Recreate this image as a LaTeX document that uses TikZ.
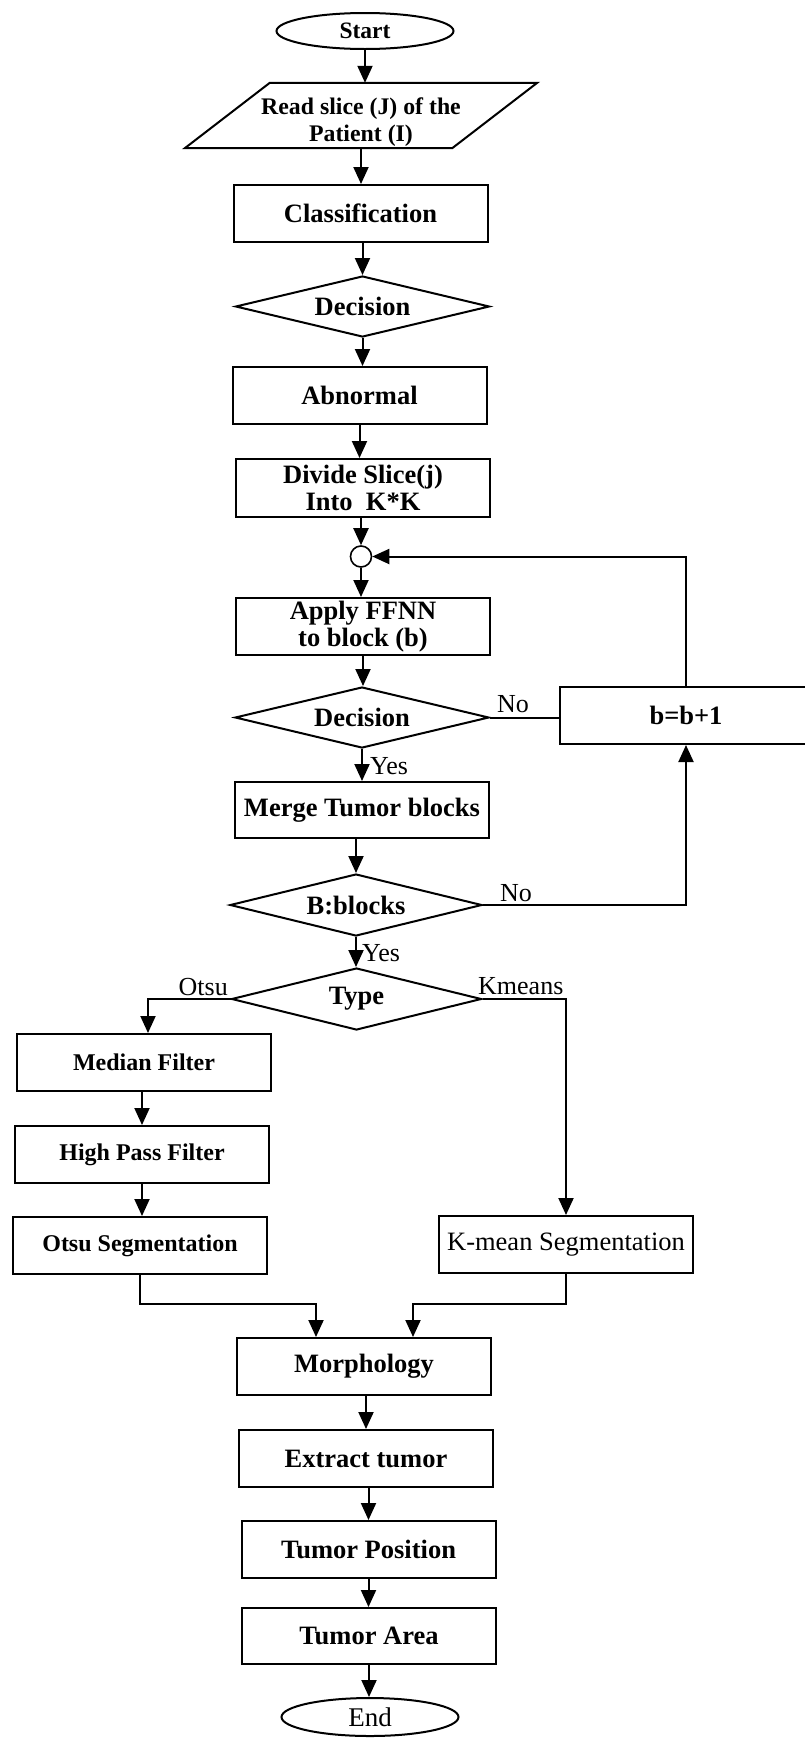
\documentclass[tikz,border=0pt]{standalone}
\usepackage{fontspec}
\setmainfont{Liberation Serif}
\usetikzlibrary{shapes.geometric,arrows.meta}

\begin{document}
\begin{tikzpicture}[x=1pt,y=-1pt,
  every node/.style={inner sep=0pt},
  outline/.style={draw,line width=2pt,align=center},
  proc/.style={outline,rectangle,minimum width=254pt,minimum height=57pt,
    font=\bfseries\fontsize{26.5pt}{27.5pt}\selectfont},
  smalltext/.style={font=\bfseries\fontsize{24pt}{26pt}\selectfont},
  dec/.style={outline,diamond,aspect=4.1,minimum width=254pt,minimum height=61pt,
    font=\bfseries\fontsize{26.5pt}{27.5pt}\selectfont},
  term/.style={outline,ellipse,minimum width=177pt,minimum height=36pt},
  iotext/.style={rectangle,align=center,minimum width=267pt,minimum height=65pt,
    font=\bfseries\fontsize{23.8pt}{27pt}\selectfont},
  junction/.style={draw,circle,line width=1.6pt,minimum size=21pt},
  lab/.style={font=\fontsize{26pt}{28pt}\selectfont},
  arr/.style={line width=2pt,-{Triangle[length=17pt,width=15pt]}},
  ln/.style={line width=2pt},
]
\useasboundingbox (0,0) rectangle (805,1738);

% main column
\node[term,font=\bfseries\fontsize{23.5pt}{25pt}\selectfont] (start) at (365,31) {Start};
\node[iotext] (read) at (361,115.5) {\rule{0pt}{31pt}Read slice (J) of the\\Patient (I)};
% input parallelogram around the read node
\draw[ln,line join=miter] ([xshift=42.5pt]read.north west) -- ([xshift=42.5pt]read.north east)
  -- ([xshift=-42.5pt]read.south east) -- ([xshift=-42.5pt]read.south west) -- cycle;
\node[proc] (class) at (360.5,213.5) {Classification};
\node[dec] (dec1) at (362.5,306.5) {Decision};
\node[proc] (abn) at (359.5,395.5) {Abnormal};
\node[proc,minimum height=58pt] (divide) at (363,488) {Divide Slice(j)\\Into\ \ K*K};
\node[junction] (jn) at (361,556.5) {};
\node[proc] (apply) at (363,626.5) {Apply FFNN\\to block (b)};
\node[dec] (dec2) at (362,717.5) {Decision};
\node[proc,minimum width=252pt] (inc) at (686,715.5) {b=b+1};
\node[proc,minimum height=56pt] (merge) at (362,810) {Merge Tumor blocks};
\node[dec,minimum width=252pt,minimum height=62pt] (blocks) at (356,905) {B:blocks};
\node[dec,minimum width=250pt,minimum height=62pt] (type) at (356.5,999) {Type};

% Otsu branch
\node[proc,smalltext] (median) at (144,1062.5) {Median Filter};
\node[proc,smalltext] (hpf) at (142,1154.5) {High Pass Filter};
\node[proc,smalltext] (otsuseg) at (140,1245.5) {Otsu Segmentation};

% K-means branch
\node[proc,font=\fontsize{26.5pt}{28pt}\selectfont] (kseg) at (566,1244.5) {K-mean Segmentation};

% tail
\node[proc] (morph) at (364,1366.5) {Morphology};
\node[proc] (extract) at (366,1458.5) {Extract tumor};
\node[proc] (position) at (368.5,1549.5) {Tumor Position};
\node[proc,minimum height=56pt] (area) at (369,1636) {Tumor Area};
\node[term,font=\fontsize{27pt}{28pt}\selectfont,minimum height=38pt] (endn) at (370,1717) {End};

% branch labels
\node[lab,anchor=base west] (yes1) at (370,774) {Yes};
\node[lab,anchor=base west] (no1) at (497,712) {No};
\node[lab,anchor=base west] (no2) at (500,901) {No};
\node[lab,anchor=base west] (yes2) at (362,961) {Yes};
\node[lab,anchor=base east] (otsu) at (228,995) {Otsu};
\node[lab,anchor=base west] (kmeans) at (478,994) {Kmeans};

% connectors
\draw[arr] (start.south) -- (start.south |- read.north);
\draw[arr] (read.south) -- (read.south |- class.north);
\draw[arr] (dec1.north |- class.south) -- (dec1.north);
\draw[arr] (dec1.south) -- (dec1.south |- abn.north);
\draw[arr] (abn.south) -- (abn.south |- divide.north);
\draw[arr] (jn.north |- divide.south) -- (jn.north);
\draw[arr] (jn.south) -- (jn.south |- apply.north);
\draw[arr] (apply.south) -- (apply.south |- dec2.north);
\draw[arr] (dec2.south) -- (dec2.south |- merge.north);
\draw[ln] (dec2.east) -- (dec2.east -| inc.west);
\draw[arr] (inc.north) |- (jn.east);
\draw[arr] (merge.south -| blocks.north) -- (blocks.north);
\draw[arr] (blocks.east) -| (inc.south);
\draw[arr] (blocks.south) -- (blocks.south |- type.north);
\draw[arr] (type.west) -| ([xshift=4pt]median.north);
\draw[arr] (type.east) -| (kseg.north);
\draw[arr] (median.south -| hpf.north) -- (hpf.north);
\draw[arr] (hpf.south) -- (hpf.south |- otsuseg.north);
\draw[arr] (otsuseg.south) -- ++(0,29) -| ([xshift=-48pt]morph.north);
\draw[arr] (kseg.south) -- ++(0,30) -| ([xshift=49pt]morph.north);
\draw[arr] (extract.north |- morph.south) -- (extract.north);
\draw[arr] (position.north |- extract.south) -- (position.north);
\draw[arr] (position.south) -- (position.south |- area.north);
\draw[arr] (area.south) -- (area.south |- endn.north);
\end{tikzpicture}
\end{document}
